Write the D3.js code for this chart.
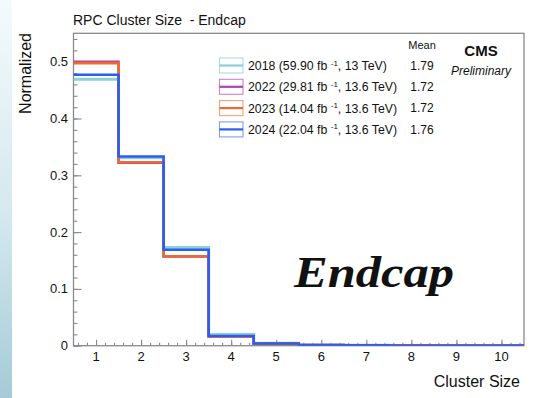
<!DOCTYPE html>
<html>
<head>
<meta charset="utf-8">
<script src="https://cdn.jsdelivr.net/npm/d3@7/dist/d3.min.js"></script>
<style>
  html, body { margin: 0; padding: 0; background: #fff; }
  svg { display: block; }
  text { font-family: "Liberation Sans", Arial, Helvetica, sans-serif; fill: #111; white-space: pre; }
</style>
</head>
<body>
<svg id="chart" width="549" height="398"></svg>
<script>
// Normalized RPC cluster-size distributions in the endcap, one per data-taking year
const clusterSizes = [1, 2, 3, 4, 5, 6, 7, 8, 9, 10];
const values2018 = [0.469, 0.331, 0.173, 0.0195, 0.0045, 0.0012, 0.0010, 0.0004, 0.0003, 0.0002];
const values2022 = [0.500, 0.322, 0.157, 0.0160, 0.0035, 0.0010, 0.0008, 0.0003, 0.0002, 0.0002];
const values2023 = [0.4975, 0.323, 0.1575, 0.0162, 0.0036, 0.0010, 0.0008, 0.0003, 0.0002, 0.0002];
const values2024 = [0.477, 0.333, 0.169, 0.0170, 0.0038, 0.0011, 0.0009, 0.0003, 0.0002, 0.0002];

const seriesYears = ["2018", "2022", "2023", "2024"];
const seriesLumi = ["59.90", "29.81", "14.04", "22.04"];
const seriesEnergy = ["13", "13.6", "13.6", "13.6"];
const seriesMeans = ["1.79", "1.72", "1.72", "1.76"];
const seriesValues = [values2018, values2022, values2023, values2024];

const yTicks = [0, 0.1, 0.2, 0.3, 0.4, 0.5];
const xTicks = [1, 2, 3, 4, 5, 6, 7, 8, 9, 10];

// styling per series
const lineColors = ["#8ccfd6", "#b13fae", "#ef6a2c", "#2a5df2"];
const boxColors  = ["#a9dbe0", "#cf82cb", "#f3a57c", "#7f9df5"];
const lineWidths = [3, 2.4, 2.6, 2.6];

const svg = d3.select("#chart");
const W = 549, H = 398;

// pale blue strip on the left edge
const defs = svg.append("defs");
const grad = defs.append("linearGradient").attr("id", "edgeStrip")
  .attr("x1", 0).attr("y1", 0).attr("x2", 0).attr("y2", 1);
grad.append("stop").attr("offset", "0%").attr("stop-color", "#f4fafc");
grad.append("stop").attr("offset", "55%").attr("stop-color", "#d3e8ee");
grad.append("stop").attr("offset", "100%").attr("stop-color", "#a5cbd6");
svg.append("rect").attr("x", 0).attr("y", 0).attr("width", 12).attr("height", H)
  .attr("fill", "url(#edgeStrip)");

const frame = { left: 73.5, right: 524, top: 33.3, bottom: 345.7 };

const x = d3.scaleLinear().domain([0.5, 10.5]).range([frame.left, frame.right]);
const y = d3.scaleLinear().domain([0, 0.55]).range([frame.bottom, frame.top]);

defs.append("clipPath").attr("id", "plotClip").append("rect")
  .attr("x", frame.left).attr("y", frame.top - 5)
  .attr("width", frame.right - frame.left).attr("height", frame.bottom - frame.top + 5);

// title
svg.append("text").attr("x", 73).attr("y", 25)
  .attr("font-size", 14).text("RPC Cluster Size  - Endcap");

// frame
const axisColor = "#8a8a8a";
svg.append("rect")
  .attr("x", frame.left).attr("y", frame.top)
  .attr("width", frame.right - frame.left).attr("height", frame.bottom - frame.top)
  .attr("fill", "none").attr("stroke", axisColor).attr("stroke-width", 1.3);

// y axis ticks (major every 0.1, minor every 0.02), drawn inward
const yAxis = d3.axisRight(y).tickValues(yTicks).tickSize(8).tickFormat("");
const yMinor = d3.axisRight(y).tickValues(d3.range(0, 0.5401, 0.02)).tickSize(4).tickFormat("");
[yAxis, yMinor].forEach(ax => {
  const g = svg.append("g").attr("transform", `translate(${frame.left},0)`).call(ax);
  g.select(".domain").remove();
  g.selectAll("line").attr("stroke", axisColor).attr("stroke-width", 1.1);
});
svg.append("g").selectAll("text").data(yTicks).join("text")
  .attr("x", 68).attr("y", d => y(d)).attr("dy", "0.35em")
  .attr("text-anchor", "end").attr("font-size", 13)
  .text(d => d === 0 ? "0" : d3.format(".1f")(d));

// x axis ticks (major at integers, minor every 0.2), drawn inward
const xAxis = d3.axisTop(x).tickValues(xTicks).tickSize(6).tickFormat("");
const xMinor = d3.axisTop(x).tickValues(d3.range(0.6, 10.45, 0.2)).tickSize(3).tickFormat("");
[xAxis, xMinor].forEach(ax => {
  const g = svg.append("g").attr("transform", `translate(0,${frame.bottom})`).call(ax);
  g.select(".domain").remove();
  g.selectAll("line").attr("stroke", axisColor).attr("stroke-width", 1.1);
});
svg.append("g").selectAll("text").data(xTicks).join("text")
  .attr("x", d => x(d)).attr("y", 361)
  .attr("text-anchor", "middle").attr("font-size", 13)
  .text(d => d);

// axis titles
svg.append("text").attr("x", 520).attr("y", 387)
  .attr("text-anchor", "end").attr("font-size", 16).text("Cluster Size");
svg.append("text")
  .attr("transform", `translate(31,33) rotate(-90)`)
  .attr("text-anchor", "end").attr("font-size", 16).text("Normalized");

// step histograms
function stepPath(vals) {
  const p = d3.path();
  vals.forEach((v, i) => {
    const xl = x(clusterSizes[i] - 0.5), xr = x(clusterSizes[i] + 0.5);
    if (i === 0) p.moveTo(xl, y(v)); else p.lineTo(xl, y(v));
    p.lineTo(xr, y(v));
  });
  return p.toString();
}
const hg = svg.append("g").attr("clip-path", "url(#plotClip)");
seriesValues.forEach((vals, i) => {
  hg.append("path").attr("d", stepPath(vals))
    .attr("fill", "none").attr("stroke", lineColors[i])
    .attr("stroke-width", lineWidths[i]).attr("stroke-linejoin", "miter");
});

// legend
const rowY = [65.5, 86.8, 108.1, 129.4];
svg.append("text").attr("x", 422).attr("y", 45.5).attr("dy", "0.35em")
  .attr("text-anchor", "middle").attr("font-size", 11).text("Mean");
seriesYears.forEach((yr, i) => {
  const cy = rowY[i];
  svg.append("rect").attr("x", 219.5).attr("y", cy - 7.5).attr("width", 23.5).attr("height", 15)
    .attr("fill", "none").attr("stroke", boxColors[i]).attr("stroke-width", 1.1);
  svg.append("line").attr("x1", 219.5).attr("x2", 243).attr("y1", cy).attr("y2", cy)
    .attr("stroke", lineColors[i]).attr("stroke-width", 2.2);
  const t = svg.append("text").attr("x", 248).attr("y", cy).attr("dy", "0.36em")
    .attr("font-size", 12.3);
  t.append("tspan").text(`${yr} (${seriesLumi[i]} fb `);
  t.append("tspan").attr("font-size", 8).attr("dy", "-0.55em").text("-1");
  t.append("tspan").attr("dy", "0.37em").text(`, ${seriesEnergy[i]} TeV)`);
  svg.append("text").attr("x", 422).attr("y", cy).attr("dy", "0.36em")
    .attr("text-anchor", "middle").attr("font-size", 12).text(seriesMeans[i]);
});

// experiment label
svg.append("text").attr("x", 481).attr("y", 51).attr("dy", "0.35em")
  .attr("text-anchor", "middle").attr("font-size", 15).attr("font-weight", "bold").text("CMS");
svg.append("text").attr("x", 481).attr("y", 71).attr("dy", "0.35em")
  .attr("text-anchor", "middle").attr("font-size", 12).attr("font-style", "italic").text("Preliminary");

// region label
svg.append("text").attr("x", 294).attr("y", 287)
  .style("font-family", "'Liberation Serif', 'Times New Roman', serif")
  .attr("font-size", 45).attr("font-weight", "bold").attr("font-style", "italic")
  .attr("textLength", 160).attr("lengthAdjust", "spacingAndGlyphs")
  .attr("fill", "#000").text("Endcap");
</script>
</body>
</html>
